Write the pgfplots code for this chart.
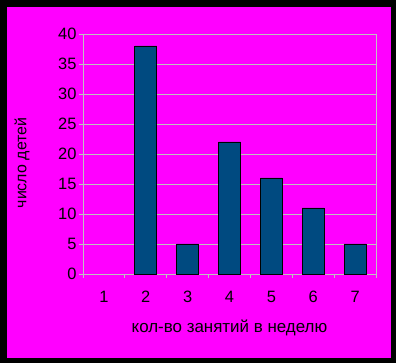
\documentclass[border=0pt]{standalone}
\usepackage{pgfplots}
\pgfplotsset{compat=1.18}
\usepackage{fontspec}
\setmainfont{Liberation Sans}
\definecolor{bg}{HTML}{FF00FF}
\definecolor{barc}{HTML}{004A80}
\definecolor{gridc}{HTML}{C0C0C0}
\begin{document}
\begin{tikzpicture}
\fill[black] (0,0) rectangle (396bp,363bp);
\fill[bg] (7bp,5bp) rectangle (391bp,356bp);
\begin{axis}[
  at={(83bp,89bp)}, anchor=south west,
  scale only axis, width=293bp, height=240bp,
  xmin=0.5, xmax=7.5, ymin=0, ymax=40,
  ytick={0,5,...,40},
  xtick={1,...,7},
  minor xtick={0.5,1.5,...,7.5},
  major x tick style={draw=none},
  minor tick length=4bp,
  major tick length=4bp,
  tick align=outside,
  tick pos=left,
  ymajorgrids,
  grid style={gridc, line width=0.8bp},
  axis line style={gridc, line width=0.8bp},
  every tick/.style={gridc, line width=0.8bp},
  minor x tick style={gridc, line width=0.8bp},
  ytick style={gridc, line width=0.8bp},
  tick label style={font=\fontsize{16.5}{16.5}\selectfont, black},
  /pgf/number format/assume math mode=true,
  xticklabel style={yshift=-10bp},
  yticklabel style={xshift=1bp},
  xlabel={кол-во занятий в неделю},
  xlabel style={font=\fontsize{17}{17}\selectfont, at={(axis description cs:0.5,0)}, anchor=center, yshift=-54bp},
  ylabel={число детей},
  ylabel style={font=\fontsize{16}{16}\selectfont, at={(axis description cs:-0.208,0.4625)}, anchor=center, rotate=0},
  axis background/.style={fill=bg},
  clip=false,
]
\addplot[ybar, bar width=22bp, fill=barc, draw=black, line width=0.8bp]
  coordinates {(2,38) (3,5) (4,22) (5,16) (6,11) (7,5)};
\end{axis}
\pgfresetboundingbox
\useasboundingbox (0,0) rectangle (396bp,363bp);
\end{tikzpicture}
\end{document}
